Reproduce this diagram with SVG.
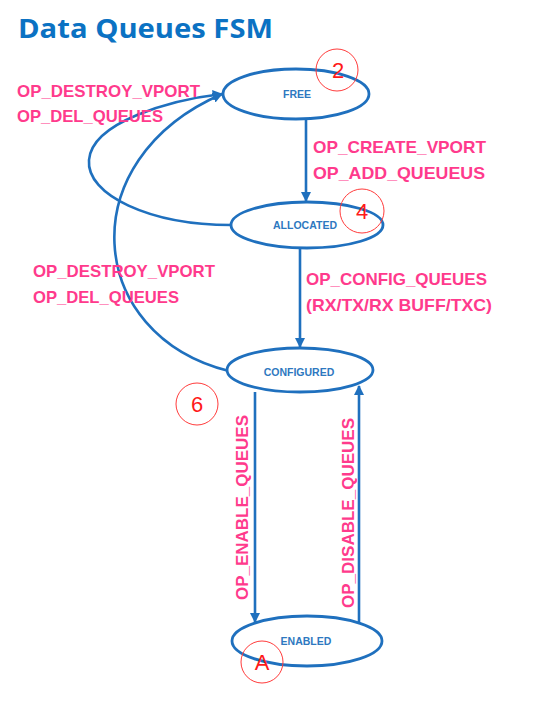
<svg xmlns="http://www.w3.org/2000/svg" width="537" height="714" viewBox="0 0 537 714">
<style>
.title{font-family:"Open Sans","Liberation Sans",sans-serif;font-weight:bold;font-size:27px;fill:#0B72C3}
.st{fill:#fff;stroke:#1F70BE;stroke-width:2.8}
.sl{font-family:"Liberation Sans",Arial,sans-serif;font-weight:bold;font-size:10.5px;fill:#2E78C0;text-anchor:middle}
.lb{font-family:"Liberation Sans",Arial,sans-serif;font-weight:bold;font-size:17px;fill:#FF3A8C}
.cn{fill:none;stroke:#1F70BE;stroke-width:2.6}
.rc{fill:none;stroke:#FF3B3B;stroke-width:1}
.rn{font-family:"Liberation Sans",Arial,sans-serif;font-size:22px;fill:#FF1A1A;text-anchor:middle}
</style>
<defs>
<marker id="ah" viewBox="0 0 10 10" refX="9" refY="5" markerWidth="4" markerHeight="4" orient="auto" markerUnits="strokeWidth">
<path d="M0,0 L10,5 L0,10 z" fill="#1F70BE"/>
</marker>
</defs>
<text class="title" x="18" y="38" textLength="255" lengthAdjust="spacingAndGlyphs">Data Queues FSM</text>
<g id="connectors">
<path class="cn" d="M306 119 L306 201" marker-end="url(#ah)"/>
<path class="cn" d="M300 248 L300 347" marker-end="url(#ah)"/>
<path class="cn" d="M255 392 L255 622" marker-end="url(#ah)"/>
<path class="cn" d="M359 623 L359 386" marker-end="url(#ah)"/>
<path class="cn" d="M229 371 C85 335, 70 160, 222 94" marker-end="url(#ah)"/>
<path class="cn" d="M231 225 C150 225, 86 195, 89 160 C92 122, 170 100, 222 94" marker-end="url(#ah)"/>
</g>
<g id="free">
<ellipse class="st" cx="296" cy="94" rx="73" ry="25"/>
<text class="sl" x="297" y="98">FREE</text>
</g>
<g id="allocated">
<ellipse class="st" cx="307" cy="225" rx="76" ry="23"/>
<text class="sl" x="305" y="229">ALLOCATED</text>
</g>
<g id="configured">
<ellipse class="st" cx="300" cy="370" rx="73" ry="22"/>
<text class="sl" x="299" y="376">CONFIGURED</text>
</g>
<g id="enabled">
<ellipse class="st" cx="307" cy="641" rx="75" ry="25"/>
<text class="sl" x="306" y="645">ENABLED</text>
</g>
<g id="labels">
<text class="lb" x="17" y="97" textLength="183" lengthAdjust="spacingAndGlyphs">OP_DESTROY_VPORT</text>
<text class="lb" x="17" y="122" textLength="146" lengthAdjust="spacingAndGlyphs">OP_DEL_QUEUES</text>
<text class="lb" x="313" y="153" textLength="173" lengthAdjust="spacingAndGlyphs">OP_CREATE_VPORT</text>
<text class="lb" x="313" y="179" textLength="172" lengthAdjust="spacingAndGlyphs">OP_ADD_QUEUEUS</text>
<text class="lb" x="306" y="285" textLength="181" lengthAdjust="spacingAndGlyphs">OP_CONFIG_QUEUES</text>
<text class="lb" x="306" y="311" textLength="186" lengthAdjust="spacingAndGlyphs">(RX/TX/RX BUFF/TXC)</text>
<text class="lb" x="33" y="277" textLength="182" lengthAdjust="spacingAndGlyphs">OP_DESTROY_VPORT</text>
<text class="lb" x="33" y="303" textLength="146" lengthAdjust="spacingAndGlyphs">OP_DEL_QUEUES</text>
<text class="lb" transform="translate(248 600) rotate(-90)" x="0" y="0" textLength="185" lengthAdjust="spacingAndGlyphs">OP_ENABLE_QUEUES</text>
<text class="lb" transform="translate(354 608) rotate(-90)" x="0" y="0" textLength="190" lengthAdjust="spacingAndGlyphs">OP_DISABLE_QUEUES</text>
</g>
<g id="marks">
<circle class="rc" cx="337" cy="70" r="21"/>
<text class="rn" x="338" y="78">2</text>
<circle class="rc" cx="362" cy="211" r="22"/>
<text class="rn" x="362" y="219">4</text>
<circle class="rc" cx="197" cy="404" r="21"/>
<text class="rn" x="197" y="412">6</text>
<circle class="rc" cx="262" cy="662" r="21"/>
<text class="rn" x="262" y="670">A</text>
</g>
</svg>
